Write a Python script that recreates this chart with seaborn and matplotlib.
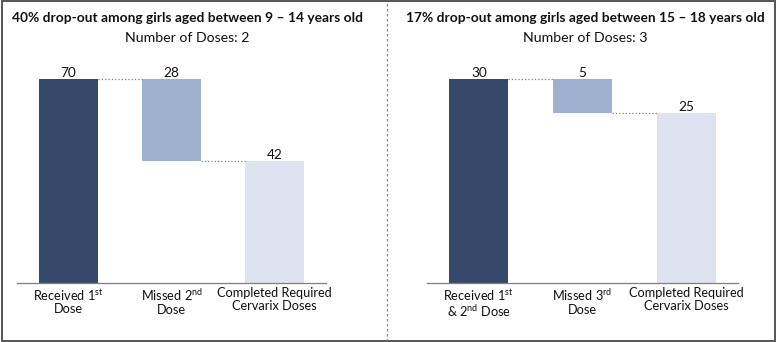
#!/usr/bin/env python3
"""
Waterfall charts of HPV vaccine drop-out by age group (two panels).
"""

import matplotlib.pyplot as plt
import seaborn as sns
from matplotlib.lines import Line2D
from matplotlib.patches import Rectangle

sns.set_theme(style="white")
plt.rcParams["font.family"] = ["Lato", "DejaVu Sans"]
plt.rcParams["mathtext.fontset"] = "custom"
plt.rcParams["mathtext.rm"] = "Lato"
plt.rcParams["mathtext.it"] = "Lato:italic"
plt.rcParams["mathtext.bf"] = "Lato:bold"

# panel 1: girls aged 9-14
young_title = "40% drop-out among girls aged between 9 \u2013 14 years old"
young_subtitle = "Number of Doses: 2"
young_labels = [
    "Received 1$^{\\mathrm{st}}$\nDose",
    "Missed 2$^{\\mathrm{nd}}$\nDose",
    "Completed Required\nCervarix Doses",
]
young_start = 70
young_missed = 28
young_completed = 42

# panel 2: girls aged 15-18
older_title = "17% drop-out among girls aged between 15 \u2013 18 years old"
older_subtitle = "Number of Doses: 3"
older_labels = [
    "Received 1$^{\\mathrm{st}}$\n& 2$^{\\mathrm{nd}}$ Dose",
    "Missed 3$^{\\mathrm{rd}}$\nDose",
    "Completed Required\nCervarix Doses",
]
older_start = 30
older_missed = 5
older_completed = 25

colors = ["#354A6A", "#9FB1CF", "#DEE4EF"]


def draw_waterfall(ax, labels, start, missed, completed):
    xs = [0, 1, 2]
    heights = [start, missed, completed]
    bottoms = [0, start - missed, 0]
    ax.bar(xs, heights, bottom=bottoms, width=0.57, color=colors, linewidth=0)

    # dotted connectors between bars
    half = 0.57 / 2
    ax.plot([0 + half, 1 - half], [start, start], ls=":", color="#7f7f7f", lw=0.9)
    ax.plot([1 + half, 2 - half], [start - missed, start - missed],
            ls=":", color="#7f7f7f", lw=0.9)

    for x, h, b in zip(xs, heights, bottoms):
        ax.text(x, b + h, f"{h}", ha="center", va="bottom", fontsize=9.8,
                color="#111111")

    ax.set_xlim(-0.5, 2.5)
    ax.set_ylim(0, max(heights) * 1.093)
    ax.set_xticks(xs)
    ax.set_xticklabels(labels, fontsize=9.2, color="#111111", linespacing=1.05)
    ax.tick_params(axis="x", length=0, pad=3)
    ax.set_yticks([])
    sns.despine(ax=ax, left=True, top=True, right=True)
    ax.spines["bottom"].set_color("#7f7f7f")
    ax.spines["bottom"].set_linewidth(0.9)


fig = plt.figure(figsize=(7.77, 3.42), dpi=100)

ax1 = fig.add_axes([0.0219, 0.1725, 0.3977, 0.652])
draw_waterfall(ax1, young_labels, young_start, young_missed, young_completed)

ax2 = fig.add_axes([0.5495, 0.1725, 0.4003, 0.652])
draw_waterfall(ax2, older_labels, older_start, older_missed, older_completed)

fig.text(0.241, 0.947, young_title, ha="center", va="center",
         fontsize=9.9, fontweight="bold", color="#111111")
fig.text(0.241, 0.888, young_subtitle, ha="center", va="center",
         fontsize=10.2, color="#111111")
fig.text(0.753, 0.947, older_title, ha="center", va="center",
         fontsize=9.9, fontweight="bold", color="#111111")
fig.text(0.753, 0.888, older_subtitle, ha="center", va="center",
         fontsize=10.2, color="#111111")

# outer frame and dashed separator
fig.patches.append(Rectangle((0.002, 0.004), 0.995, 0.992, transform=fig.transFigure,
                             fill=False, edgecolor="#555555", linewidth=1.4))
fig.lines.append(Line2D([0.498, 0.498], [0.004, 0.996], transform=fig.transFigure,
                        color="#888888", linestyle=(0, (2, 2)), linewidth=0.9))

fig.savefig("out.png", dpi=100)
